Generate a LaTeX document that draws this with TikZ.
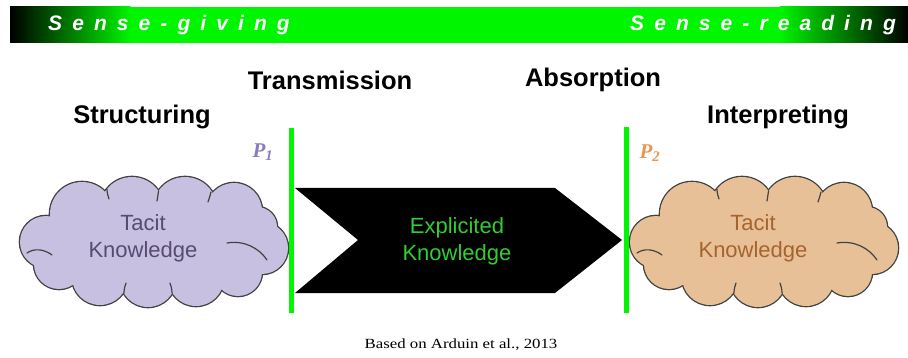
\documentclass[tikz,border=0pt]{standalone}
\usepackage{fontspec}
\setmainfont{Liberation Sans}
\newfontfamily\serifb{Liberation Serif}
\newfontfamily\bannerfont[LetterSpace=48]{Liberation Sans}
\definecolor{brightgreen}{RGB}{0,245,0}
\definecolor{lavender}{RGB}{200,192,225}
\definecolor{lavtext}{RGB}{85,75,115}
\definecolor{tan}{RGB}{232,192,152}
\definecolor{tantext}{RGB}{165,100,45}
\definecolor{pone}{RGB}{140,125,185}
\definecolor{ptwo}{RGB}{235,150,80}
\definecolor{exgreen}{RGB}{50,205,50}
\definecolor{cloudedge}{RGB}{65,65,65}
\tikzset{
  heading/.style={font=\fontsize{25.5}{28}\selectfont\bfseries, text=black, inner sep=0pt},
  banner/.style={font=\fontsize{21}{23}\selectfont\bannerfont\bfseries\itshape, text=white, inner sep=0pt},
  cloudtext/.style={font=\fontsize{22}{27}\selectfont, align=center, inner sep=0pt},
  barline/.style={draw=brightgreen, line width=5pt},
  plabel/.style={font=\fontsize{21}{24}\selectfont\serifb\bfseries\itshape, inner sep=0pt},
  puffedge/.style={draw=cloudedge, line width=2.6pt},
  inneredge/.style={draw=cloudedge, line width=1.2pt, line cap=round}
}
\def\puffs{-108/0/26, -72/-28/32, -22/-33/32, 31/-33/32, 80/-31/28, 103/-15/20, 108/6/26, 84/30/24, 42/36/28, -6/37/28, -54/35/28, -95/22/25}
\newcommand\drawcloud[2]{%
  \begin{scope}[shift={#1}]
    \foreach \px/\py/\pr in \puffs {\draw[puffedge] (\px,\py) circle[radius=\pr];}
    \foreach \px/\py/\pr in \puffs {\fill[#2] (\px,\py) circle[radius=\pr];}
    \fill[#2] (0,0) ellipse[x radius=95, y radius=40];
    % inner arcs
    \draw[inneredge] (-127,11) .. controls (-120,6) and (-110,7) .. (-102,13);
    \draw[inneredge] (73,1) .. controls (90,-2) and (105,6) .. (113,18);
    \draw[inneredge] (-47,-53) .. controls (-47,-49) and (-46,-46) .. (-45,-43);
    \draw[inneredge] (4.5,-51) .. controls (4,-47) and (3.5,-44) .. (3,-41);
    \draw[inneredge] (57,-50) .. controls (56,-46) and (55,-43) .. (54,-40);
    \draw[inneredge] (-30,51) .. controls (-30,47) and (-29,44) .. (-28,41);
    \draw[inneredge] (18,51) .. controls (18,47) and (17,44) .. (16,41);
  \end{scope}%
}
\begin{document}
\begin{tikzpicture}[x=1pt,y=-1pt]
\useasboundingbox[fill=white] (0,0) rectangle (908,358);
% banner
\fill[brightgreen] (130,7) rectangle (780,43);
\shade[left color=black, right color=brightgreen] (10,7) rectangle (130.5,43);
\shade[left color=brightgreen, right color=black] (779.5,7) rectangle (908,43);
\node[banner, anchor=west] (sg) at (48,25) {Sense-giving};
\node[banner, anchor=west] (sr) at (630,25) {Sense-reading};
% headings
\node[heading] (trans) at (330,80) {Transmission};
\node[heading] (abs) at (593,80) {Absorption};
\node[heading] (struct) at (142,117) {Structuring};
\node[heading] (interp) at (778,117) {Interpreting};
% clouds
\drawcloud{(154,242)}{lavender}
\node[cloudtext, text=lavtext] (t1) at (143,238) {Tacit\\Knowledge};
\drawcloud{(764,242)}{tan}
\node[cloudtext, text=tantext] (t2) at (753,238) {Tacit\\Knowledge};
% chevron
\fill[black] (295,188) -- (555,188) -- (622,240) -- (555,293) -- (295,293) -- (358,240) -- cycle;
\node[cloudtext, text=exgreen] (ex) at (457,241) {Explicited\\Knowledge};
% bars
\coordinate (b1t) at (291,128);
\coordinate (b1b) at (291,313);
\coordinate (b2t) at (626,127);
\coordinate (b2b) at (626,313);
\draw[barline] (b1t) -- (b1b);
\draw[barline] (b2t) -- (b2b);
% P labels
\node[plabel, text=pone] (p1) at (263,152) {P\textsubscript{1}};
\node[plabel, text=ptwo] (p2) at (650,153) {P\textsubscript{2}};
% caption
\node[font=\fontsize{14}{16}\selectfont\serifb, inner sep=0pt] (cap) at (461,345) {\scalebox{1.2}[1]{Based on Arduin et al., 2013}};
\end{tikzpicture}
\end{document}
